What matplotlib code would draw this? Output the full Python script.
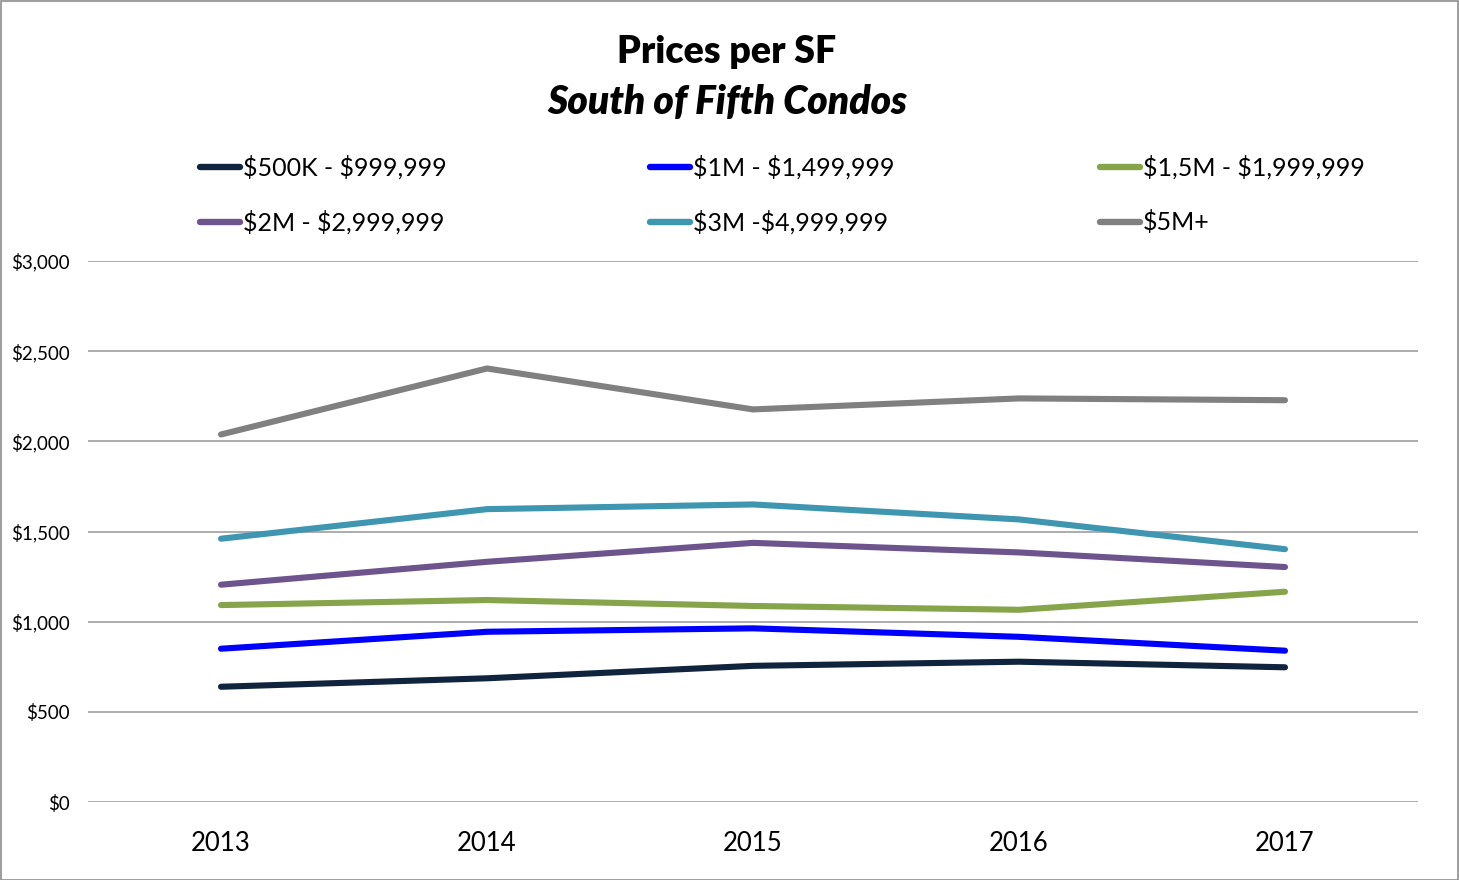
import matplotlib
matplotlib.use("Agg")
import matplotlib.pyplot as plt
from matplotlib.lines import Line2D
from matplotlib.patches import Rectangle
from matplotlib.ticker import FuncFormatter

years = ["2013", "2014", "2015", "2016", "2017"]
series_names = ["$500K - $999,999", "$1M - $1,499,999", "$1,5M - $1,999,999",
                "$2M - $2,999,999", "$3M -$4,999,999", "$5M+"]
s_500k = [639, 686, 755, 778, 747]
s_1m = [850, 944, 963, 916, 839]
s_15m = [1092, 1120, 1087, 1066, 1166]
s_2m = [1205, 1332, 1437, 1384, 1303]
s_3m = [1460, 1624, 1650, 1567, 1402]
s_5m = [2038, 2404, 2177, 2238, 2228]
colors = ["#10243E", "#0000FF", "#86A44A", "#6E548D", "#3E96B0", "#808080"]
y_ticks = [0, 500, 1000, 1500, 2000, 2500, 3000]

all_series = [s_500k, s_1m, s_15m, s_2m, s_3m, s_5m]

plt.rcParams['text.parse_math'] = False
plt.rcParams['font.family'] = ['Lato', 'DejaVu Sans']

W, H = 1459, 880
fig = plt.figure(figsize=(W / 100, H / 100), dpi=100)

ax = fig.add_axes([88 / W, (H - 802) / H, 1330 / W, (802 - 261) / H])
x = list(range(len(years)))
for vals, c in zip(all_series, colors):
    ax.plot(x, vals, color=c, lw=4.4, solid_capstyle='round', solid_joinstyle='round', zorder=3)

ax.set_xlim(-0.5, len(years) - 0.5)
ax.set_ylim(0, 3000)
ax.set_yticks(y_ticks)
ax.yaxis.set_major_formatter(FuncFormatter(lambda v, p: "${:,.0f}".format(v)))
ax.set_xticks(x)
ax.set_xticklabels(years)
ax.grid(axis='y', color='#A6A6A6', lw=1.3)
ax.set_axisbelow(True)
for s in ax.spines.values():
    s.set_visible(False)
ax.tick_params(axis='y', length=0, pad=13, labelsize=13.5, labelcolor='#000000')
ax.tick_params(axis='x', length=0, pad=21, labelsize=18.5, labelcolor='#000000')

# Title
fig.text(727 / W, 1 - 52 / H, "Prices per SF", ha='center', va='center',
         fontsize=27, fontweight='heavy')
fig.text(727 / W, 1 - 102 / H, "South of Fifth Condos", ha='center', va='center',
         fontsize=28, fontweight='heavy', style='italic')

# Legend (manual placement)
col_x = [197, 647, 1097]
row_y = [167, 222]
for i, (name, c) in enumerate(zip(series_names, colors)):
    r, cidx = divmod(i, 3)
    x0 = col_x[cidx]
    yy = 1 - row_y[r] / H
    fig.add_artist(Line2D([(x0 + 3) / W, (x0 + 43) / W], [yy, yy], color=c, lw=4.6,
                          solid_capstyle='round', transform=fig.transFigure))
    fig.text((x0 + 46) / W, yy, name, ha='left', va='center', fontsize=18)

# Border
fig.add_artist(Rectangle((0.5 / W, 0.5 / H), (W - 1.5) / W, (H - 1.5) / H, fill=False,
                         edgecolor='#8C8C8C', lw=1.2, transform=fig.transFigure))

fig.savefig("out.png", dpi=100)
